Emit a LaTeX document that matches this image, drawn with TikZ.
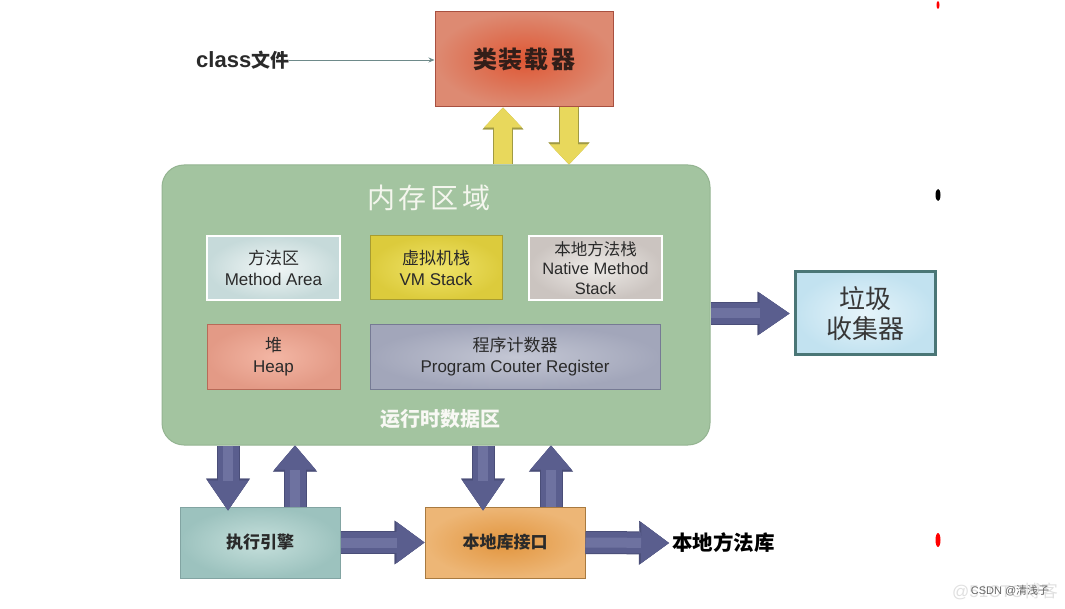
\documentclass[tikz,border=0pt]{standalone}
\usepackage{fontspec}
\setmainfont{Liberation Sans}
\newfontfamily\cjk{Noto Sans CJK SC}
\usetikzlibrary{arrows.meta,shadings}
\definecolor{txt}{HTML}{2A2A2A}
\definecolor{loaderin}{HTML}{DE5734}
\definecolor{loaderout}{HTML}{DD8A72}
\definecolor{loaderline}{HTML}{A85040}
\definecolor{memfill}{HTML}{A3C4A0}
\definecolor{memline}{HTML}{94B491}
\definecolor{maIn}{HTML}{F2F7F7}
\definecolor{maOut}{HTML}{C6DADA}
\definecolor{vmIn}{HTML}{F0E46A}
\definecolor{vmOut}{HTML}{DCCB3C}
\definecolor{vmLine}{HTML}{A89C30}
\definecolor{nmIn}{HTML}{EEEBE8}
\definecolor{nmOut}{HTML}{CBC4C0}
\definecolor{heapIn}{HTML}{F3B6A4}
\definecolor{heapOut}{HTML}{E39A86}
\definecolor{heapLine}{HTML}{B86A58}
\definecolor{pcIn}{HTML}{C4C7D4}
\definecolor{pcOut}{HTML}{A2A6BA}
\definecolor{pcLine}{HTML}{767A94}
\definecolor{gcIn}{HTML}{E6F4FA}
\definecolor{gcOut}{HTML}{C2E2F0}
\definecolor{gcLine}{HTML}{4A7676}
\definecolor{exIn}{HTML}{C6E0DC}
\definecolor{exOut}{HTML}{9CC2BE}
\definecolor{exLine}{HTML}{82A4A2}
\definecolor{jniIn}{HTML}{E2953E}
\definecolor{jniOut}{HTML}{EDB676}
\definecolor{jniLine}{HTML}{A87A40}
\definecolor{arrowc}{HTML}{5A5E8E}
\definecolor{arrowl}{HTML}{6E72A0}
\definecolor{arrowb}{HTML}{4A4E78}
\definecolor{yfill}{HTML}{E8D85C}
\definecolor{yline}{HTML}{A09A44}
\definecolor{thin}{HTML}{6E8A8A}
\begin{document}
\begin{tikzpicture}[x=1pt,y=-1pt,
  box/.style={rectangle, inner sep=0pt, align=center, text=txt, shading=radial,
    font=\fontsize{17}{21}\selectfont},
  barrow/.style={draw=arrowc, line width=21pt,
    -{Triangle[length=#1,width=41pt,line width=0.4pt]},
    preaction={draw=arrowb, line width=23pt, -{Triangle[length=#1+2pt,width=44pt,line width=0.4pt]}},
    postaction={draw=arrowl, line width=10pt, -, shorten >=#1}},
  barrow/.default=26pt,
  yarrow/.style={draw=yfill, line width=18pt,
    -{Triangle[length=#1,width=38pt,line width=0.4pt]},
    preaction={draw=yline, line width=20pt, -{Triangle[length=#1+2pt,width=41pt,line width=0.4pt]}}},
  yarrow/.default=20pt,
  thinarrow/.style={draw=thin, line width=0.9pt, -{Stealth[length=6pt,width=5pt]}}
]
\useasboundingbox (0,0) rectangle (1065,609);
\fill[white] (0,0) rectangle (1065,609);

% class loader
\node[box, minimum width=178pt, minimum height=95pt, draw=loaderline, line width=1pt,
  inner color=loaderin, outer color=loaderout, text={rgb,255:red,50;green,30;blue,25},
  font=\cjk\bfseries\fontsize{24}{28}\selectfont] (loader) at (524,59.5) {类\kern2pt 装\kern2pt 载\kern2pt 器};
\node[inner sep=0pt, text=txt, font=\bfseries\fontsize{22}{25}\selectfont, anchor=west]
  (classfile) at (196,60) {class{\cjk\fontsize{19}{22}\selectfont 文件}};
\draw[thinarrow] (classfile.east) -- (loader.west |- classfile.east);

% memory area
\node[rectangle, rounded corners=22pt, fill=memfill, draw=memline, line width=1pt,
  minimum width=548pt, minimum height=280pt, inner sep=0pt] (mem) at (436,305) {};
\node[inner sep=0pt, text={rgb,255:red,244;green,246;blue,238},
  font=\cjk\fontsize{28}{32}\selectfont] (title) at (429,198) {内\kern4pt 存\kern4pt 区\kern4pt 域};

\node[box, minimum width=133pt, minimum height=64pt, draw=white, line width=2pt,
  inner color=maIn, outer color=maOut] (ma) at (273.5,268)
  {{\cjk 方法区}\\Method Area};
\node[box, minimum width=132pt, minimum height=64pt, draw=vmLine, line width=1pt,
  inner color=vmIn, outer color=vmOut] (vm) at (436,268)
  {{\cjk 虚拟机栈}\\VM Stack};
\node[box, minimum width=133pt, minimum height=64pt, draw=white, line width=2pt,
  inner color=nmIn, outer color=nmOut, font=\fontsize{16.5}{19.5}\selectfont] (nm) at (595.5,268)
  {{\cjk 本地方法栈}\\Native Method\\Stack};
\node[box, minimum width=133pt, minimum height=64pt, draw=heapLine, line width=1pt,
  inner color=heapIn, outer color=heapOut] (heap) at (273.5,357)
  {{\cjk 堆}\\Heap};
\node[box, minimum width=290pt, minimum height=64pt, draw=pcLine, line width=1pt,
  inner color=pcIn, outer color=pcOut] (pc) at (515,357)
  {{\cjk 程序计数器}\\Program Couter Register};
\node[inner sep=0pt, text={rgb,255:red,248;green,248;blue,244},
  font=\cjk\bfseries\fontsize{20}{24}\selectfont] (rt) at (440,419) {运行时数据区};

% garbage collector
\node[box, minimum width=140pt, minimum height=83pt, draw=gcLine, line width=3pt,
  inner color=gcIn, outer color=gcOut, text={rgb,255:red,55;green,55;blue,55},
  font=\cjk\fontsize{26}{30}\selectfont] (gc) at (865,313.5) {垃圾\\收集器};

% execution engine, native interface
\node[box, minimum width=160pt, minimum height=71pt, draw=exLine, line width=1pt,
  inner color=exIn, outer color=exOut, font=\cjk\bfseries\fontsize{17}{21}\selectfont]
  (exec) at (260,542.5) {执行引擎};
\node[box, minimum width=160pt, minimum height=71pt, draw=jniLine, line width=1pt,
  inner color=jniIn, outer color=jniOut, font=\cjk\bfseries\fontsize{17}{21}\selectfont]
  (jni) at (505,542.5) {本地库接口};
\node[inner sep=0pt, anchor=west, text=black, font=\cjk\bfseries\fontsize{20.5}{24}\selectfont]
  (nlib) at (672,543) {本地方法库};

% arrow columns
\coordinate (c1) at (228,0);
\coordinate (c2) at (295,0);
\coordinate (c3) at (483,0);
\coordinate (c4) at (551,0);
\coordinate (c5) at (503,0);
\coordinate (c6) at (569,0);

% yellow arrows
\draw[yarrow] (mem.north -| c5) -- (loader.south -| c5);
\draw[yarrow] (loader.south -| c6) -- (mem.north -| c6);

% blue arrows
\draw[barrow=30pt] (mem.south -| c1) -- ([yshift=-4pt]exec.north -| c1);
\draw[barrow=24pt] (exec.north -| c2) -- (mem.south -| c2);
\draw[barrow=30pt] (mem.south -| c3) -- ([yshift=-4pt]jni.north -| c3);
\draw[barrow=24pt] (jni.north -| c4) -- (mem.south -| c4);
\draw[barrow=28pt] (exec.east) -- (jni.west);
\draw[barrow=28pt] (jni.east) -- ([xshift=-3pt]nlib.west);
\draw[barrow=30pt] (gc.west -| mem.east) -- ([xshift=-4pt]gc.west);

% edge marks and watermark
\fill[red] (938,5) ellipse (1.5pt and 4pt);
\fill[black] (938,195) ellipse (2.5pt and 6pt);
\fill[red] (938,540) ellipse (2.5pt and 7pt);
\node[inner sep=0pt, text=black!12, font=\fontsize{17}{20}\selectfont] (wm2) at (1005,591) {@51CTO{\cjk 博客}};
\node[inner sep=0pt, text=black!60, font=\fontsize{11}{13}\selectfont] (wm1) at (1010,591) {CSDN @{\cjk 清浅子}};
\end{tikzpicture}
\end{document}
